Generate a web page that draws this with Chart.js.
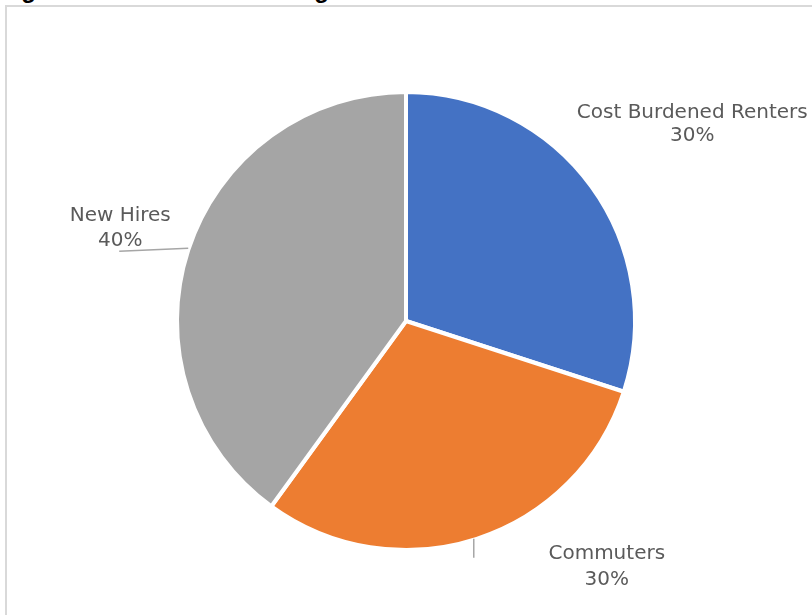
<!DOCTYPE html>
<html>
<head>
<meta charset="utf-8">
<script src="https://cdn.jsdelivr.net/npm/chart.js@4"></script>
<style>
  body { margin: 0; background: #fff; overflow: hidden; }
  #title { position: absolute; left: 0; top: -22px; font: bold 24px "Liberation Sans", Arial, sans-serif; line-height: 24px; color: #000; white-space: nowrap; }
  #frame { position: absolute; left: 5px; top: 5px; width: 900px; height: 700px; border: 2px solid #d9d9d9; }
  #myChart { position: absolute; left: 0; top: 0; }
</style>
</head>
<body>
<div id="title">Figure 4: Workforce Housing Demand</div>
<div id="frame"></div>
<canvas id="myChart" width="812" height="615"></canvas>
<script>
const categories = ['Cost Burdened Renters', 'Commuters', 'New Hires'];
const shares = [30, 30, 40];
const sliceColors = ['#4472C4', '#ED7D31', '#A5A5A5'];

// where each label sits, measured from the slice's outer mid point
// leader: [start dx, start dy, end dx, end dy]
const labelPlaces = [
    { dx: 101, dy: -68, gap: 23 },
    { dx: 130, dy: 20, gap: 26, leader: [-3, 0, -3, 19] },
    { dx: -68, dy: -29, gap: 25, leader: [0, -2, -69, 1] }
];

const sliceLabels = {
    id: 'sliceLabels',
    afterDatasetsDraw(chart) {
        const ctx = chart.ctx;
        const arcs = chart.getDatasetMeta(0).data;
        ctx.save();
        ctx.font = '20px "DejaVu Sans"';
        ctx.fillStyle = '#5a5a5a';
        ctx.textAlign = 'center';
        arcs.forEach((arc, i) => {
            const mid = (arc.startAngle + arc.endAngle) / 2;
            const ex = arc.x + Math.cos(mid) * arc.outerRadius;
            const ey = arc.y + Math.sin(mid) * arc.outerRadius;
            const p = labelPlaces[i];
            if (p.leader) {
                ctx.strokeStyle = '#a6a6a6';
                ctx.lineWidth = 1.5;
                ctx.beginPath();
                ctx.moveTo(ex + p.leader[0], ey + p.leader[1]);
                ctx.lineTo(ex + p.leader[2], ey + p.leader[3]);
                ctx.stroke();
            }
            ctx.fillText(categories[i], ex + p.dx, ey + p.dy);
            ctx.fillText(shares[i] + '%', ex + p.dx, ey + p.dy + p.gap);
        });
        ctx.restore();
    }
};

function myLoadFunction() {
    const ctx = document.getElementById('myChart').getContext('2d');
    const myChart = new Chart(ctx, {
        type: 'pie',
        data: {
            labels: categories,
            datasets: [{
                data: shares,
                backgroundColor: sliceColors,
                borderColor: '#ffffff',
                borderWidth: 4
            }]
        },
        options: {
            responsive: false,
            animation: false,
            radius: 229,
            layout: { padding: { left: 20, right: 20, top: 40, bottom: 13 } },
            plugins: {
                legend: { display: false },
                tooltip: { enabled: false }
            }
        },
        plugins: [sliceLabels]
    });
}

document.addEventListener('DOMContentLoaded', myLoadFunction);
</script>
</body>
</html>
